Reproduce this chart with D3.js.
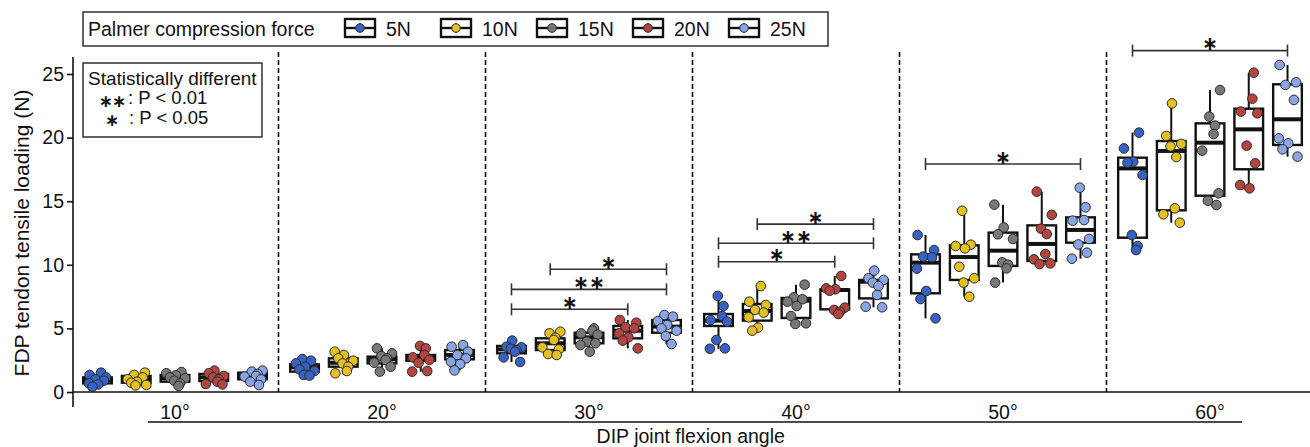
<!DOCTYPE html>
<html>
<head>
<meta charset="utf-8">
<script src="https://cdn.jsdelivr.net/npm/d3@7"></script>
<style>
  html, body { margin: 0; padding: 0; background: #fff; }
  svg { display: block; font-family: "Liberation Sans", Arial, Helvetica, sans-serif; }
</style>
</head>
<body>
<svg id="chart" width="1310" height="447"></svg>
<script>
// ---------------- data ----------------
const angles = ["10°", "20°", "30°", "40°", "50°", "60°"];
const forces = ["5N", "10N", "15N", "20N", "25N"];
const forceColors = ["#3762c4", "#e4c023", "#787878", "#b3443f", "#89a5e4"];
const yTicks = [0, 5, 10, 15, 20, 25];

// box statistics: [series][angle]
const q3 = [
  [1.15, 2.17, 3.62, 6.13, 10.82, 18.42],
  [1.26, 2.65, 4.22, 6.92, 11.53, 19.73],
  [1.34, 2.78, 4.66, 7.39, 12.53, 21.12],
  [1.42, 2.91, 5.19, 8.07, 13.10, 22.27],
  [1.52, 3.30, 5.66, 8.81, 13.73, 24.19]
];
const medians = [
  [0.94, 1.94, 3.35, 5.61, 10.17, 17.58],
  [1.00, 2.30, 3.83, 6.37, 10.61, 18.95],
  [1.08, 2.57, 4.30, 7.18, 11.11, 19.60],
  [1.15, 2.72, 4.82, 8.02, 11.64, 20.65],
  [1.26, 2.91, 5.14, 8.67, 12.74, 21.44]
];
const q1 = [
  [0.68, 1.60, 3.04, 5.19, 7.76, 12.13],
  [0.73, 1.99, 3.30, 5.61, 8.81, 14.28],
  [0.81, 2.25, 3.83, 5.82, 9.91, 15.43],
  [0.86, 2.46, 4.22, 6.50, 10.30, 17.51],
  [1.00, 2.57, 4.66, 7.36, 11.74, 19.42]
];
const whiskerHi = [
  [1.52, 2.59, 4.04, 7.55, 12.34, 20.39],
  [1.52, 3.17, 4.74, 8.33, 14.25, 22.69],
  [1.57, 3.43, 5.00, 8.44, 14.73, 23.74],
  [1.68, 3.62, 5.66, 9.12, 15.75, 25.10],
  [1.68, 3.69, 6.05, 9.54, 16.06, 25.71]
];
const whiskerLo = [
  [0.42, 1.29, 2.36, 3.40, 5.79, 11.16],
  [0.52, 1.47, 2.91, 4.82, 7.49, 13.31],
  [0.47, 1.60, 3.17, 5.35, 8.60, 14.70],
  [0.60, 1.60, 3.43, 6.13, 10.06, 16.01],
  [0.55, 1.70, 3.77, 6.66, 10.48, 18.50]
];
// individual measurements: [series][angle][sample]
const samples = [
  [
    [1.52, 1.34, 1.15, 1.00, 0.89, 0.68, 0.60, 0.42],
    [2.59, 2.46, 2.25, 1.99, 1.78, 1.65, 1.34, 1.29],
    [4.04, 3.56, 3.51, 3.40, 3.30, 3.17, 2.72, 2.36],
    [7.55, 6.76, 5.97, 5.66, 5.53, 4.09, 3.43, 3.40],
    [12.34, 11.16, 10.64, 10.59, 9.70, 7.94, 7.31, 5.79],
    [20.39, 19.15, 18.11, 18.03, 17.06, 12.34, 11.48, 11.16]
  ],
  [
    [1.52, 1.34, 1.15, 1.00, 0.81, 0.73, 0.55, 0.52],
    [3.17, 2.91, 2.65, 2.46, 2.25, 1.99, 1.65, 1.47],
    [4.74, 4.61, 4.27, 4.09, 3.51, 3.35, 2.99, 2.91],
    [8.33, 7.10, 6.84, 6.45, 6.24, 5.87, 5.06, 4.82],
    [14.25, 11.58, 11.48, 11.29, 9.85, 8.94, 8.60, 7.49],
    [22.69, 20.13, 19.50, 19.31, 18.47, 14.44, 13.97, 13.31]
  ],
  [
    [1.57, 1.47, 1.31, 1.15, 1.08, 0.89, 0.68, 0.47],
    [3.43, 3.04, 2.83, 2.65, 2.52, 2.30, 1.99, 1.60],
    [5.00, 4.82, 4.61, 4.51, 3.96, 3.83, 3.69, 3.17],
    [8.44, 7.44, 7.29, 7.10, 6.76, 5.97, 5.40, 5.35],
    [14.73, 12.94, 12.40, 12.03, 10.19, 10.01, 9.72, 8.60],
    [23.74, 21.65, 20.94, 20.28, 18.97, 15.62, 15.04, 14.70]
  ],
  [
    [1.68, 1.47, 1.26, 1.15, 1.00, 0.81, 0.63, 0.60],
    [3.62, 3.43, 2.91, 2.72, 2.52, 2.30, 1.65, 1.60],
    [5.66, 5.45, 5.09, 5.01, 4.61, 4.30, 4.04, 3.43],
    [9.12, 8.15, 8.07, 7.96, 6.63, 6.45, 6.31, 6.13],
    [15.75, 13.92, 12.84, 12.42, 10.85, 10.43, 10.11, 10.06],
    [25.10, 23.06, 22.04, 21.91, 19.37, 17.98, 16.27, 16.01]
  ],
  [
    [1.68, 1.60, 1.42, 1.26, 1.21, 1.00, 0.81, 0.55],
    [3.69, 3.56, 3.17, 2.91, 2.65, 2.38, 2.20, 1.70],
    [6.05, 5.92, 5.58, 5.27, 5.00, 4.82, 4.40, 3.77],
    [9.54, 8.94, 8.81, 8.60, 8.33, 7.63, 6.71, 6.66],
    [16.06, 14.52, 13.52, 13.47, 12.03, 11.60, 10.95, 10.48],
    [25.71, 24.35, 24.14, 22.96, 19.94, 19.55, 19.08, 18.50]
  ]
];
// significance brackets: angle index, from series, to series, height (N), label
const bracketAngle = [2, 2, 2, 3, 3, 3, 4, 5];
const bracketFrom  = [1, 0, 0, 1, 0, 0, 0, 0];
const bracketTo    = [4, 4, 3, 4, 4, 3, 4, 4];
const bracketY     = [9.65, 8.07, 6.50, 13.2, 11.69, 10.24, 17.92, 26.84];
const bracketLabel = ["∗", "∗∗", "∗", "∗", "∗∗", "∗", "∗", "∗"];

// horizontal spread pattern for the dots (fraction of half box width)
const jitterPattern = [0.25, -0.55, 0.6, -0.15, 0.45, -0.6, 0.05, -0.35, 0.7, -0.05, 0.35];

// ---------------- drawing ----------------
const svg = d3.select("#chart");
const W = 1310;
const plotLeft = 71.5, plotRight = 1313.5;
const yBottom = 392, yTop = 74;

const x0 = d3.scaleBand().domain(angles).range([plotLeft, plotRight]).padding(0);
const x1 = d3.scalePoint().domain(forces).range([0, x0.bandwidth()]).padding(0.671);
const y = d3.scaleLinear().domain([0, 25]).range([yBottom, yTop]);
const boxW = x1.step() * 0.74;
const color = d3.scaleOrdinal().domain(forces).range(forceColors);

// dashed separators
const seps = angles.slice(1);
svg.append("g").selectAll("line").data(seps).join("line")
  .attr("x1", d => x0(d)).attr("x2", d => x0(d))
  .attr("y1", 52).attr("y2", yBottom)
  .attr("stroke", "#111").attr("stroke-width", 1.6)
  .attr("stroke-dasharray", "5,3");

// y axis
const yAxisG = svg.append("g").attr("transform", `translate(73,0)`)
  .call(d3.axisLeft(y).tickValues(yTicks).tickSize(6).tickPadding(3).tickFormat(d3.format("d")));
yAxisG.select(".domain").remove();
yAxisG.append("line").attr("x1", 0).attr("x2", 0).attr("y1", 57).attr("y2", 407)
  .attr("stroke", "#111").attr("stroke-width", 1.6);
yAxisG.selectAll(".tick line").attr("stroke", "#111").attr("stroke-width", 1.6);
yAxisG.selectAll(".tick text").attr("fill", "#111")
  .style("font-size", "19.5px").style("font-family", "Liberation Sans, Arial, sans-serif");

// x axis baseline
svg.append("line").attr("x1", 73).attr("x2", W).attr("y1", yBottom).attr("y2", yBottom)
  .attr("stroke", "#111").attr("stroke-width", 1.6);

// x category labels
const xAxisG = svg.append("g").attr("transform", `translate(0,${yBottom})`)
  .call(d3.axisBottom(x0).tickSize(0).tickPadding(13));
xAxisG.select(".domain").remove();
xAxisG.selectAll(".tick text").attr("fill", "#111")
  .style("font-size", "19.5px").style("font-family", "Liberation Sans, Arial, sans-serif");

// underline below category labels
svg.append("line").attr("x1", 148).attr("x2", 1242).attr("y1", 422).attr("y2", 422)
  .attr("stroke", "#111").attr("stroke-width", 1.6);

// axis titles
svg.append("text").attr("x", (plotLeft + 1310) / 2).attr("y", 443)
  .attr("text-anchor", "middle").attr("fill", "#111")
  .style("font-size", "19.5px").text("DIP joint flexion angle");
svg.append("text").attr("transform", `translate(29,${(yTop + yBottom) / 2}) rotate(-90)`)
  .attr("text-anchor", "middle").attr("fill", "#111")
  .style("font-size", "21px").text("FDP tendon tensile loading (N)");

// boxes
const boxData = [];
forces.forEach((f, s) => {
  angles.forEach((a, g) => {
    boxData.push({ f, a, s, g,
      q1: q1[s][g], q3: q3[s][g], med: medians[s][g],
      lo: whiskerLo[s][g], hi: whiskerHi[s][g], pts: samples[s][g] });
  });
});
const cx = d => x0(d.a) + x1(d.f);

const boxes = svg.append("g").selectAll("g").data(boxData).join("g");
boxes.append("line").attr("x1", cx).attr("x2", cx)
  .attr("y1", d => y(d.hi)).attr("y2", d => y(d.lo))
  .attr("stroke", "#111").attr("stroke-width", 2);
boxes.append("rect")
  .attr("x", d => cx(d) - boxW / 2).attr("width", boxW)
  .attr("y", d => y(d.q3)).attr("height", d => Math.max(0.5, y(d.q1) - y(d.q3)))
  .attr("fill", "#fff").attr("stroke", "#111").attr("stroke-width", 2.4);
boxes.append("line")
  .attr("x1", d => cx(d) - boxW / 2).attr("x2", d => cx(d) + boxW / 2)
  .attr("y1", d => y(d.med)).attr("y2", d => y(d.med))
  .attr("stroke", "#111").attr("stroke-width", 4);

// dots
const dotData = [];
boxData.forEach(d => {
  d.pts.forEach((v, i) => {
    const j = jitterPattern[(i + d.g * 3 + d.s * 2) % jitterPattern.length];
    dotData.push({ x: cx(d) + j * boxW * 0.5, v, f: d.f });
  });
});
svg.append("g").selectAll("circle").data(dotData).join("circle")
  .attr("cx", d => d.x).attr("cy", d => y(d.v)).attr("r", 4.8)
  .attr("fill", d => color(d.f)).attr("stroke", "#2a2a2a").attr("stroke-width", 1);

// significance brackets
const brackets = bracketY.map((v, i) => ({
  a: angles[bracketAngle[i]], from: forces[bracketFrom[i]], to: forces[bracketTo[i]], v, label: bracketLabel[i]
}));
const bg = svg.append("g").selectAll("g").data(brackets).join("g");
bg.append("line")
  .attr("x1", d => x0(d.a) + x1(d.from)).attr("x2", d => x0(d.a) + x1(d.to))
  .attr("y1", d => y(d.v)).attr("y2", d => y(d.v))
  .attr("stroke", "#333").attr("stroke-width", 1.6);
bg.append("line")
  .attr("x1", d => x0(d.a) + x1(d.from)).attr("x2", d => x0(d.a) + x1(d.from))
  .attr("y1", d => y(d.v) - 6).attr("y2", d => y(d.v) + 6)
  .attr("stroke", "#333").attr("stroke-width", 1.6);
bg.append("line")
  .attr("x1", d => x0(d.a) + x1(d.to)).attr("x2", d => x0(d.a) + x1(d.to))
  .attr("y1", d => y(d.v) - 6).attr("y2", d => y(d.v) + 6)
  .attr("stroke", "#333").attr("stroke-width", 1.6);
bg.append("text")
  .attr("x", d => x0(d.a) + (x1(d.from) + x1(d.to)) / 2)
  .attr("y", d => y(d.v) - 0.5)
  .attr("text-anchor", "middle").attr("fill", "#111")
  .style("font-family", "DejaVu Sans, sans-serif").style("font-size", "19px").style("font-weight", "bold")
  .text(d => d.label);

// statistics note box
const note = svg.append("g");
note.append("rect").attr("x", 83).attr("y", 63).attr("width", 179).attr("height", 74)
  .attr("fill", "#fff").attr("stroke", "#222").attr("stroke-width", 1.4);
note.append("text").attr("x", 88).attr("y", 85).attr("fill", "#111")
  .style("font-size", "19px").text("Statistically different");
note.append("text").attr("x", 112).attr("y", 106.5).attr("text-anchor", "middle").attr("fill", "#111")
  .style("font-family", "DejaVu Sans, sans-serif").style("font-size", "17px").style("font-weight", "bold")
  .style("letter-spacing", "-1px").text("∗∗");
note.append("text").attr("x", 128).attr("y", 104).attr("fill", "#111")
  .style("font-size", "18.5px").text(": P < 0.01");
note.append("text").attr("x", 112).attr("y", 125.5).attr("text-anchor", "middle").attr("fill", "#111")
  .style("font-family", "DejaVu Sans, sans-serif").style("font-size", "17px").style("font-weight", "bold").text("∗");
note.append("text").attr("x", 129).attr("y", 123.5).attr("fill", "#111")
  .style("font-size", "18.5px").text(": P < 0.05");

// legend
const leg = svg.append("g");
leg.append("rect").attr("x", 83).attr("y", 12).attr("width", 745).attr("height", 34)
  .attr("fill", "#fff").attr("stroke", "#222").attr("stroke-width", 1.4);
leg.append("text").attr("x", 88).attr("y", 35.5).attr("fill", "#111")
  .style("font-size", "19.5px").text("Palmer compression force");
const legX = d3.scalePoint().domain(forces).range([344, 728]);
const items = leg.selectAll("g.item").data(forces).join("g").attr("class", "item")
  .attr("transform", d => `translate(${legX(d)},0)`);
items.append("rect").attr("x", 1).attr("y", 19).attr("width", 30).attr("height", 18)
  .attr("fill", "#fff").attr("stroke", "#111").attr("stroke-width", 2.4);
items.append("line").attr("x1", 1).attr("x2", 31).attr("y1", 28).attr("y2", 28)
  .attr("stroke", "#111").attr("stroke-width", 2.4);
items.append("circle").attr("cx", 16).attr("cy", 28).attr("r", 4.3)
  .attr("fill", d => color(d)).attr("stroke", "#2a2a2a").attr("stroke-width", 1);
items.append("text").attr("x", 42).attr("y", 36).attr("fill", "#111")
  .style("font-size", "19.5px").text(d => d);
</script>
</body>
</html>
